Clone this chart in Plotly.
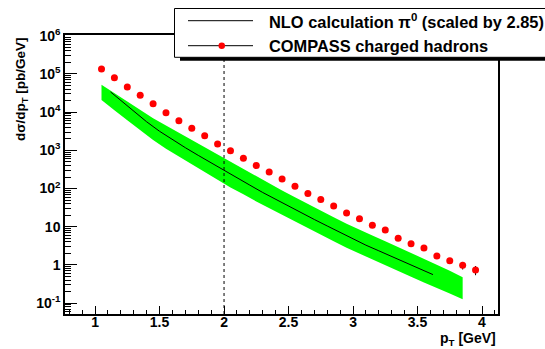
import plotly.graph_objects as go

# ---------------- data ----------------
pt_data = [1.05, 1.15, 1.25, 1.35, 1.45, 1.55, 1.65, 1.75, 1.85, 1.95,
           2.05, 2.15, 2.25, 2.35, 2.45, 2.55, 2.65, 2.75, 2.85, 2.95,
           3.05, 3.15, 3.25, 3.35, 3.45, 3.55, 3.65, 3.75, 3.85, 3.95]
xs_data = [1.35e5, 8.0e4, 4.57e4, 2.77e4, 1.67e4, 9.7e3, 6.0e3, 3.8e3, 2.4e3, 1.47e3,
           980, 620, 400, 270, 179, 115, 74, 52, 35, 23,
           16.3, 11.0, 8.2, 5.0, 3.6, 2.8, 1.72, 1.30, 0.98, 0.74]
xs_err = [0, 0, 0, 0, 0, 0, 0, 0, 0, 0,
          0, 0, 0, 0, 0, 0, 0, 0, 0, 0,
          0.3, 0.25, 0.2, 0.15, 0.14, 0.14, 0.14, 0.2, 0.22, 0.2]

pt_nlo = [1.12, 1.2, 1.3, 1.4, 1.5, 1.6, 1.7, 1.8, 1.9, 2.0,
          2.1, 2.2, 2.3, 2.4, 2.5, 2.6, 2.7, 2.8, 2.9, 3.0,
          3.1, 3.2, 3.3, 3.4, 3.5, 3.6, 3.62]
xs_nlo = [33900, 20400, 10500, 5600, 3160, 1900, 1175, 740, 468, 295,
          190, 123, 79, 52, 35, 23, 15.5, 10.5, 7.1, 4.8,
          3.3, 2.35, 1.66, 1.20, 0.85, 0.60, 0.56]

pt_band = [1.05, 1.15, 1.25, 1.35, 1.45, 1.55, 1.65, 1.75, 1.85, 1.95,
           2.05, 2.15, 2.25, 2.35, 2.45, 2.55, 2.65, 2.75, 2.85, 2.95,
           3.05, 3.15, 3.25, 3.35, 3.45, 3.55, 3.65, 3.75, 3.85]
band_upper = [52500, 31600, 18600, 11000, 6900, 4470, 2880, 1905, 1230, 776,
              490, 316, 204, 135, 89, 59, 39, 26.3, 17.8, 12.0,
              8.3, 5.9, 4.2, 2.95, 2.09, 1.48, 1.05, 0.71, 0.48]
band_lower = [20900, 11200, 6170, 3310, 1860, 1100, 676, 427, 269, 170,
              107, 71, 46, 30, 20.4, 13.5, 9.1, 6.2, 4.17, 2.82,
              1.95, 1.38, 0.98, 0.69, 0.49, 0.35, 0.245, 0.178, 0.126]

x_tickvals = [1, 1.5, 2, 2.5, 3, 3.5, 4]
x_ticktext = ["1", "1.5", "2", "2.5", "3", "3.5", "4"]
y_tickvals = [0.1, 1, 10, 100, 1e3, 1e4, 1e5, 1e6]
y_ticktext = ["10<sup>-1</sup>", "1", "10", "10<sup>2</sup>", "10<sup>3</sup>",
              "10<sup>4</sup>", "10<sup>5</sup>", "10<sup>6</sup>"]
cut_pt = 2.0

legend_labels = ["NLO calculation π<sup>0</sup> (scaled by 2.85)", "COMPASS charged hadrons"]

# ---------------- layout helpers ----------------
W, H = 545, 349
ML, MR, MT, MB = 65, 47, 35, 35
PW, PH = W - ML - MR, H - MT - MB


def px(x):
    return (x - ML) / PW


def py(y):
    return (H - MB - y) / PH


FONT = "Liberation Sans, Arial, Helvetica, sans-serif"

fig = go.Figure()

# green uncertainty band
fig.add_trace(go.Scatter(
    x=pt_band + pt_band[::-1],
    y=band_upper + band_lower[::-1],
    fill="toself", fillcolor="#00ff00", line=dict(width=0),
    mode="lines", hoverinfo="skip", showlegend=False))

# NLO line
fig.add_trace(go.Scatter(
    x=pt_nlo, y=xs_nlo, mode="lines",
    line=dict(color="black", width=1), showlegend=False))

# COMPASS points
fig.add_trace(go.Scatter(
    x=pt_data, y=xs_data, mode="markers",
    marker=dict(color="#ff0000", size=7, line=dict(width=0)),
    error_y=dict(type="data", array=xs_err, color="black", thickness=1, width=0),
    showlegend=False))

minor_y = []
for e in range(-2, 6):
    for m in range(2, 10):
        minor_y.append(m * 10 ** e)
minor_x = [round(0.8 + 0.1 * i, 2) for i in range(34)]

fig.update_xaxes(
    range=[0.767, 4.124], showgrid=False, zeroline=False, automargin=False,
    showline=True, mirror=True, linecolor="black", linewidth=1.5,
    ticks="inside", ticklen=8, tickwidth=1, tickcolor="black",
    tickmode="array", tickvals=x_tickvals, ticktext=x_ticktext,
    ticklabelstandoff=-6,
    tickfont=dict(family=FONT, size=14, color="black", weight="bold"),
    minor=dict(ticks="inside", ticklen=4, tickwidth=1, tickcolor="black",
               tickmode="array", tickvals=minor_x, showgrid=False),
)
fig.update_yaxes(
    type="log", range=[-1.283, 6.02], showgrid=False, zeroline=False, automargin=False,
    showline=True, mirror=True, linecolor="black", linewidth=1.5,
    ticks="inside", ticklen=12, tickwidth=1, tickcolor="black",
    tickmode="array", tickvals=y_tickvals, ticktext=y_ticktext,
    tickfont=dict(family=FONT, size=14, color="black", weight="bold"),
    minor=dict(ticks="inside", ticklen=6, tickwidth=1, tickcolor="black",
               tickmode="array", tickvals=minor_y, showgrid=False),
)

shapes = []
# dashed cut line
shapes.append(dict(type="line", xref="x", yref="paper", x0=cut_pt, x1=cut_pt, y0=0, y1=1,
                   line=dict(color="black", width=1, dash="3px,3px"), layer="above"))
# legend shadow + box
shapes.append(dict(type="rect", xref="paper", yref="paper",
                   x0=px(180), x1=px(560), y0=py(60.7), y1=py(11),
                   fillcolor="black", line=dict(width=0), layer="above"))
shapes.append(dict(type="rect", xref="paper", yref="paper",
                   x0=px(174.5), x1=px(556), y0=py(57.3), y1=py(8.5),
                   fillcolor="white", line=dict(color="black", width=1), layer="above"))
# legend samples
for yy in (20.7, 45.7):
    shapes.append(dict(type="line", xref="paper", yref="paper",
                       x0=px(188), x1=px(253), y0=py(yy), y1=py(yy),
                       line=dict(color="black", width=1), layer="above"))
shapes.append(dict(type="circle", xref="paper", yref="paper",
                   x0=px(218.5), x1=px(225), y0=py(49), y1=py(42.5),
                   fillcolor="#ff0000", line=dict(width=0), layer="above"))

annotations = []
for yy, txt in zip((20.7, 45.7), legend_labels):
    annotations.append(dict(xref="paper", yref="paper", x=px(267), y=py(yy),
                            xanchor="left", yanchor="middle", showarrow=False,
                            text=txt, font=dict(family=FONT, size=16.4, color="black", weight="bold")))
# axis titles
annotations.append(dict(xref="paper", yref="paper", x=px(21), y=py(35),
                        xanchor="center", yanchor="top", textangle=-90, showarrow=False,
                        text="dσ/dp<sub>T</sub> [pb/GeV]",
                        font=dict(family=FONT, size=13.5, color="black", weight="bold")))
annotations.append(dict(xref="paper", yref="paper", x=px(498), y=py(339),
                        xanchor="right", yanchor="middle", showarrow=False,
                        text="p<sub>T</sub> [GeV]",
                        font=dict(family=FONT, size=14, color="black", weight="bold")))

fig.update_layout(
    width=W, height=H,
    margin=dict(l=ML, r=MR, t=MT, b=MB, pad=0, autoexpand=False),
    paper_bgcolor="white", plot_bgcolor="white",
    showlegend=False, shapes=shapes, annotations=annotations,
    font=dict(family=FONT, color="black"),
)

fig.write_html("out.html", config={"displayModeBar": False},
               post_script="document.body.style.margin='0';document.body.style.padding='0';")
